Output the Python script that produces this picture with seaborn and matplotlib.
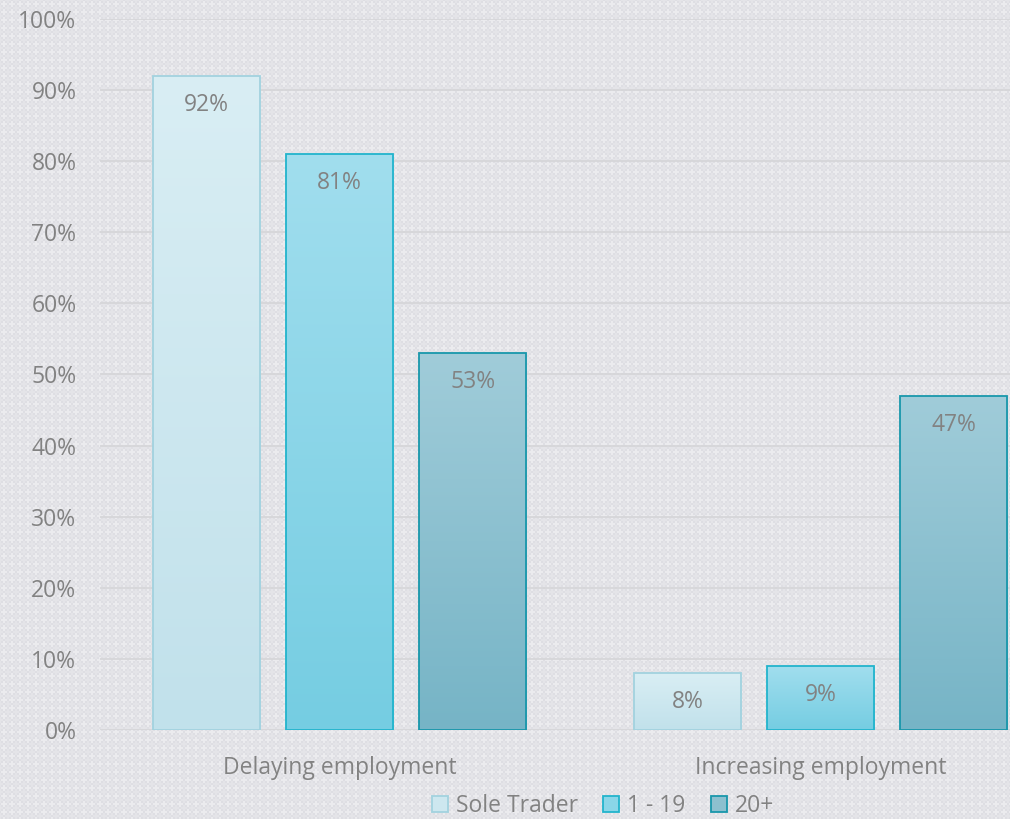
import numpy as np
import pandas as pd
import matplotlib
matplotlib.use("Agg")
import matplotlib.pyplot as plt
from matplotlib.patches import Patch
from matplotlib.colors import to_rgb
import seaborn as sns

# Survey results: share of businesses by size band
categories = ["Delaying employment", "Increasing employment"]
groups = ["Sole Trader", "1 - 19", "20+"]
sole_trader = [92, 8]
small_firms = [81, 9]
large_firms = [53, 47]
y_ticks = [0, 10, 20, 30, 40, 50, 60, 70, 80, 90, 100]

df = pd.DataFrame({
    "category": categories * 3,
    "group": [g for g in groups for _ in categories],
    "value": sole_trader + small_firms + large_firms,
})

# gradient colours (top, bottom) and outlines per size band
grad = {
    "Sole Trader": ("#d9eef4", "#c1e1eb"),
    "1 - 19": ("#a1deee", "#75cde2"),
    "20+": ("#a0ccd9", "#76b4c6"),
}
edges = {"Sole Trader": "#a2d2df", "1 - 19": "#22b4cc", "20+": "#1897ab"}
mids = {"Sole Trader": "#cde7ef", "1 - 19": "#8ad6e8", "20+": "#8cc0cf"}

sns.set_theme(style="white")
plt.rcParams["font.family"] = ["Open Sans", "DejaVu Sans"]
text_grey = "#828282"
fs = 16.5

W, H = 1010, 819
fig = plt.figure(figsize=(W / 100, H / 100), dpi=100)
fig.patch.set_alpha(0)

# textured backdrop: light four-point stars on a grey weave
yy, xx = np.mgrid[0:H, 0:W]
p = 8
u = (xx % p) - p / 2 + 0.5
v = (yy % p) - p / 2 + 0.5
u2 = ((xx + p // 2) % p) - p / 2 + 0.5
v2 = ((yy + p // 2) % p) - p / 2 + 0.5
star1 = ((np.abs(u) < 1.0) & (np.abs(v) < 3.5)) | ((np.abs(v) < 1.0) & (np.abs(u) < 3.5))
star2 = ((np.abs(u2) < 1.0) & (np.abs(v2) < 3.5)) | ((np.abs(v2) < 1.0) & (np.abs(u2) < 3.5))
base = np.array(to_rgb("#dedee3"))
light = np.array(to_rgb("#ebebee"))
mid = np.array(to_rgb("#e4e4e8"))
tex = np.empty((H, W, 3))
tex[:] = base
tex[star2] = mid
tex[star1] = light
fig.figimage(tex, xo=0, yo=0, origin="upper", zorder=-10)

ax = fig.add_axes([100 / W, (H - 730) / H, (W - 100) / W, (730 - 19) / H])
ax.patch.set_alpha(0)

sns.barplot(data=df, x="category", y="value", hue="group", order=categories,
            hue_order=groups, width=0.83, gap=0.19, palette=mids,
            edgecolor="none", linewidth=0, legend=False, ax=ax, zorder=3)

# repaint each bar with a vertical gradient and its outline
bars = list(ax.patches)
for i, bar in enumerate(bars):
    g = groups[i // len(categories)]
    top, bot = (np.array(to_rgb(c)) for c in grad[g])
    x0, w, h = bar.get_x(), bar.get_width(), bar.get_height()
    t = np.linspace(0, 1, 128)[:, None]
    img = (top[None, :] * (1 - t) + bot[None, :] * t)[:, None, :]
    im = ax.imshow(img, extent=[x0, x0 + w, 0, h], aspect="auto",
                   origin="upper", zorder=3, interpolation="bicubic")
    im.set_clip_path(bar)
    bar.set_facecolor("none")
    bar.set_edgecolor(edges[g])
    bar.set_linewidth(1.3)
    bar.set_zorder(4)
    ax.annotate(f"{h:.0f}%", (x0 + w / 2, h), xytext=(0, -29),
                textcoords="offset pixels", ha="center", va="center",
                fontsize=fs, color=text_grey, zorder=5)

ax.set_xlim(-0.498, 1.394)
ax.set_ylim(0, 100)
ax.set_yticks(y_ticks)
ax.set_yticklabels([f"{t}%" for t in y_ticks])
ax.yaxis.grid(True, color="#d5d5d8", linewidth=1.2, zorder=1)
ax.set_axisbelow(True)
for s in ax.spines.values():
    s.set_visible(False)
ax.tick_params(axis="both", length=0, colors=text_grey, labelsize=fs)
ax.tick_params(axis="y", pad=17)
ax.tick_params(axis="x", pad=19)
ax.set_xlabel("")
ax.set_ylabel("")

handles = [Patch(facecolor=mids[g], edgecolor=edges[g], linewidth=1.3, label=g)
           for g in groups]
fig.legend(handles=handles, loc="center", bbox_to_anchor=(603 / W, (H - 806) / H),
           ncol=3, frameon=False, fontsize=fs, labelcolor=text_grey,
           handlelength=0.7, handleheight=0.7, handletextpad=0.35,
           columnspacing=1.1, borderaxespad=0)

fig.savefig("out.png", dpi=100)
